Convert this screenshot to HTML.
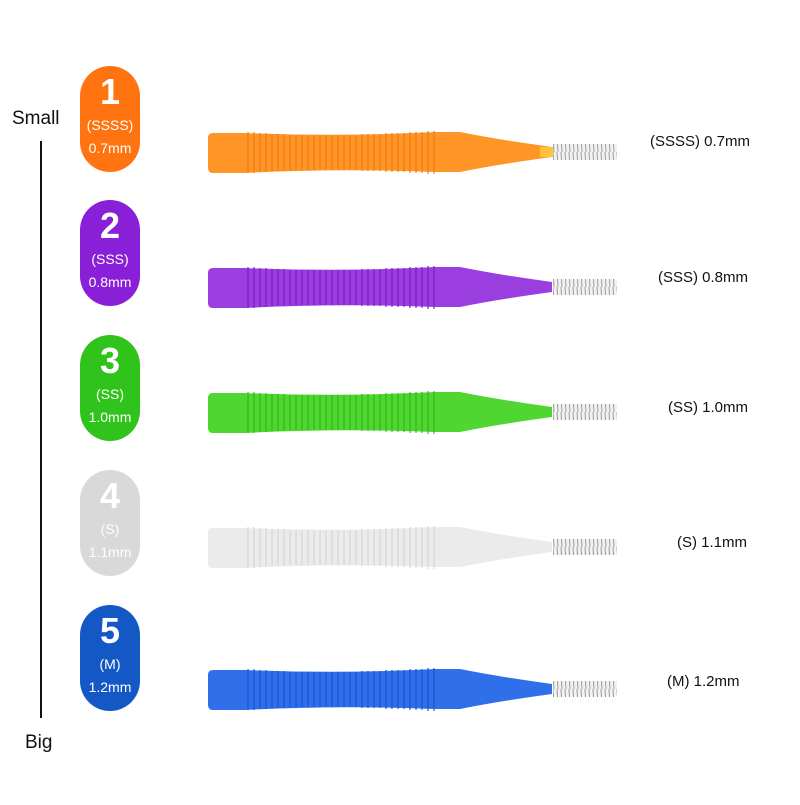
<!DOCTYPE html>
<html><head><meta charset="utf-8"><style>
html,body{margin:0;padding:0;background:#fff;}
body{width:800px;height:800px;overflow:hidden;}
text{font-family:"Liberation Sans",sans-serif;}
</style></head><body>
<svg width="800" height="800" viewBox="0 0 800 800" xmlns="http://www.w3.org/2000/svg">
<defs>
<pattern id="wire" width="4" height="16" patternUnits="userSpaceOnUse">
<rect width="4" height="16" fill="#f2f2f2"/><line x1="1" y1="0" x2="2" y2="16" stroke="#9a9a9a" stroke-width="1"/>
</pattern>
</defs>
<text x="12" y="124" font-size="19" fill="#111">Small</text>
<line x1="41" y1="141" x2="41" y2="718" stroke="#111" stroke-width="2"/>
<text x="25" y="748" font-size="19" fill="#111">Big</text>

<!-- pills -->
<rect x="80" y="66" width="60" height="106" rx="30" fill="#ff7410"/>
<rect x="80" y="200" width="60" height="106" rx="30" fill="#8a1fd8"/>
<rect x="80" y="335" width="60" height="106" rx="30" fill="#30c31c"/>
<rect x="80" y="470" width="60" height="106" rx="30" fill="#d9d9d9"/>
<rect x="80" y="605" width="60" height="106" rx="30" fill="#1458c6"/>
<g fill="#fff" text-anchor="middle">
<text x="110" y="104" font-size="36" font-weight="bold">1</text><text x="110" y="130" font-size="14">(SSSS)</text><text x="110" y="153" font-size="14">0.7mm</text>
<text x="110" y="238" font-size="36" font-weight="bold">2</text><text x="110" y="264" font-size="14">(SSS)</text><text x="110" y="287" font-size="14">0.8mm</text>
<text x="110" y="373" font-size="36" font-weight="bold">3</text><text x="110" y="399" font-size="14">(SS)</text><text x="110" y="422" font-size="14">1.0mm</text>
<text x="110" y="508" font-size="36" font-weight="bold">4</text><text x="110" y="534" font-size="14">(S)</text><text x="110" y="557" font-size="14">1.1mm</text>
<text x="110" y="643" font-size="36" font-weight="bold">5</text><text x="110" y="669" font-size="14">(M)</text><text x="110" y="692" font-size="14">1.2mm</text>
</g>

<g font-size="15" fill="#111">
<text x="650" y="146">(SSSS) 0.7mm</text>
<text x="658" y="282">(SSS) 0.8mm</text>
<text x="668" y="412">(SS) 1.0mm</text>
<text x="677" y="547">(S) 1.1mm</text>
<text x="667" y="686">(M) 1.2mm</text>
</g>

<!-- brushes -->
<g transform="translate(0,152)">
<rect x="553" y="-8" width="64" height="16" fill="url(#wire)"/>
<path d="M213 -19 H245 Q340 -15 435 -20 H460 Q500 -12 552 -5 V5 Q500 12 460 20 H435 Q340 16 245 21 H213 Q208 21 208 16 V-14 Q208 -19 213 -19 Z" fill="#ff9526"/>
<rect x="540" y="-5" width="13" height="10" fill="#ffc23a"/>
<g stroke="#f07a10" stroke-width="1.6" opacity=".7">
<path d="M248-20V21M254-20V21M260-19V20M266-19V20M272-18V19M278-18V19M284-18V19M290-17V18M296-17V18M302-17V18M308-17V18M314-17V18M320-17V18M326-17V18M332-17V18M338-17V18M344-17V18M350-17V18M356-17V18M362-18V19M368-18V19M374-18V19M380-18V19M386-19V20M392-19V20M398-19V20M404-19V20M410-20V21M416-20V21M422-20V21M428-21V22M434-21V22"/>
</g></g>

<g transform="translate(0,287)">
<rect x="553" y="-8" width="64" height="16" fill="url(#wire)"/>
<path d="M213 -19 H245 Q340 -15 435 -20 H460 Q500 -12 552 -5 V5 Q500 12 460 20 H435 Q340 16 245 21 H213 Q208 21 208 16 V-14 Q208 -19 213 -19 Z" fill="#9a3ee0"/>
<g stroke="#7a18c8" stroke-width="1.6" opacity=".7">
<path d="M248-20V21M254-20V21M260-19V20M266-19V20M272-18V19M278-18V19M284-18V19M290-17V18M296-17V18M302-17V18M308-17V18M314-17V18M320-17V18M326-17V18M332-17V18M338-17V18M344-17V18M350-17V18M356-17V18M362-18V19M368-18V19M374-18V19M380-18V19M386-19V20M392-19V20M398-19V20M404-19V20M410-20V21M416-20V21M422-20V21M428-21V22M434-21V22"/>
</g></g>

<g transform="translate(0,412)">
<rect x="553" y="-8" width="64" height="16" fill="url(#wire)"/>
<path d="M213 -19 H245 Q340 -15 435 -20 H460 Q500 -12 552 -5 V5 Q500 12 460 20 H435 Q340 16 245 21 H213 Q208 21 208 16 V-14 Q208 -19 213 -19 Z" fill="#4fd630"/>
<g stroke="#2fb818" stroke-width="1.6" opacity=".7">
<path d="M248-20V21M254-20V21M260-19V20M266-19V20M272-18V19M278-18V19M284-18V19M290-17V18M296-17V18M302-17V18M308-17V18M314-17V18M320-17V18M326-17V18M332-17V18M338-17V18M344-17V18M350-17V18M356-17V18M362-18V19M368-18V19M374-18V19M380-18V19M386-19V20M392-19V20M398-19V20M404-19V20M410-20V21M416-20V21M422-20V21M428-21V22M434-21V22"/>
</g></g>

<g transform="translate(0,547)">
<rect x="553" y="-8" width="64" height="16" fill="url(#wire)"/>
<path d="M213 -19 H245 Q340 -15 435 -20 H460 Q500 -12 552 -5 V5 Q500 12 460 20 H435 Q340 16 245 21 H213 Q208 21 208 16 V-14 Q208 -19 213 -19 Z" fill="#ebebeb"/>
<g stroke="#d6d6d6" stroke-width="1.6" opacity=".7">
<path d="M248-20V21M254-20V21M260-19V20M266-19V20M272-18V19M278-18V19M284-18V19M290-17V18M296-17V18M302-17V18M308-17V18M314-17V18M320-17V18M326-17V18M332-17V18M338-17V18M344-17V18M350-17V18M356-17V18M362-18V19M368-18V19M374-18V19M380-18V19M386-19V20M392-19V20M398-19V20M404-19V20M410-20V21M416-20V21M422-20V21M428-21V22M434-21V22"/>
</g></g>

<g transform="translate(0,689)">
<rect x="553" y="-8" width="64" height="16" fill="url(#wire)"/>
<path d="M213 -19 H245 Q340 -15 435 -20 H460 Q500 -12 552 -5 V5 Q500 12 460 20 H435 Q340 16 245 21 H213 Q208 21 208 16 V-14 Q208 -19 213 -19 Z" fill="#2f6fea"/>
<g stroke="#1a50d0" stroke-width="1.6" opacity=".7">
<path d="M248-20V21M254-20V21M260-19V20M266-19V20M272-18V19M278-18V19M284-18V19M290-17V18M296-17V18M302-17V18M308-17V18M314-17V18M320-17V18M326-17V18M332-17V18M338-17V18M344-17V18M350-17V18M356-17V18M362-18V19M368-18V19M374-18V19M380-18V19M386-19V20M392-19V20M398-19V20M404-19V20M410-20V21M416-20V21M422-20V21M428-21V22M434-21V22"/>
</g></g>
</svg>
</body></html>
